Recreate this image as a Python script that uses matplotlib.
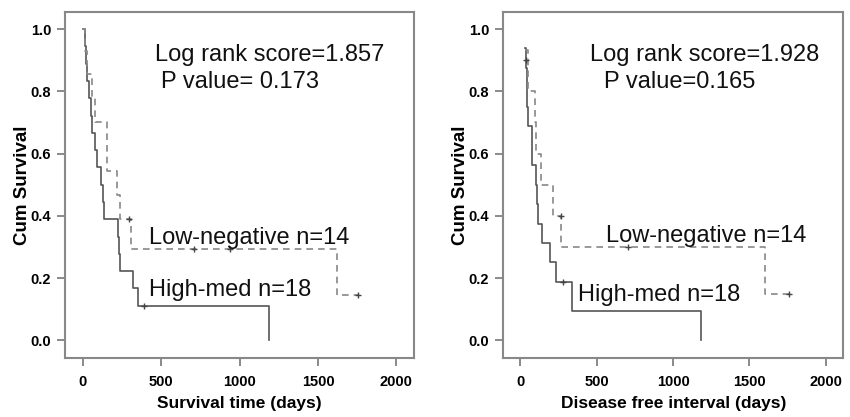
import matplotlib.pyplot as plt

# ---- data ----
# left panel: overall survival
hm1_t = [0, 12, 20, 28, 40, 52, 62, 75, 88, 115, 128, 135, 222, 232, 240, 318, 350, 1190]
hm1_s = [1.0, 0.944, 0.889, 0.833, 0.778, 0.722, 0.667, 0.611, 0.556, 0.5, 0.444,
         0.389, 0.333, 0.278, 0.222, 0.167, 0.111, 0.0]
hm1_cens_t = [392]
hm1_cens_s = [0.111]

ln1_t = [0, 15, 30, 60, 75, 157, 217, 238, 305, 1620]
ln1_s = [1.0, 0.929, 0.857, 0.779, 0.701, 0.545, 0.467, 0.389, 0.292, 0.146]
ln1_end = 1753
ln1_cens_t = [298, 707, 940, 1753]
ln1_cens_s = [0.389, 0.292, 0.292, 0.146]

# right panel: disease free interval
hm2_t = [30, 36, 40, 44, 47, 78, 100, 110, 118, 138, 192, 232, 338, 1184]
hm2_s = [0.9375, 0.875, 0.8125, 0.75, 0.6875, 0.5625, 0.5, 0.4375, 0.375, 0.3125,
         0.25, 0.1875, 0.094, 0.0]
hm2_cens_t = [279]
hm2_cens_s = [0.1875]

ln2_t = [30, 52, 95, 105, 134, 214, 268, 1600]
ln2_s = [0.933, 0.8, 0.7, 0.6, 0.5, 0.4, 0.3, 0.15]
ln2_end = 1762
ln2_cens_t = [35, 265, 706, 1762]
ln2_cens_s = [0.90, 0.4, 0.3, 0.15]

panels = [
    dict(hm_t=hm1_t, hm_s=hm1_s, hm_ct=hm1_cens_t, hm_cs=hm1_cens_s,
         ln_t=ln1_t, ln_s=ln1_s, ln_end=ln1_end, ln_ct=ln1_cens_t, ln_cs=ln1_cens_s,
         xlabel='Survival time (days)',
         texts=[(461, 0.915, 'Log rank score=1.857'), (500, 0.83, 'P value= 0.173'),
                (423, 0.33, 'Low-negative n=14'), (423, 0.16, 'High-med n=18')]),
    dict(hm_t=hm2_t, hm_s=hm2_s, hm_ct=hm2_cens_t, hm_cs=hm2_cens_s,
         ln_t=ln2_t, ln_s=ln2_s, ln_end=ln2_end, ln_ct=ln2_cens_t, ln_cs=ln2_cens_s,
         xlabel='Disease free interval (days)',
         texts=[(456, 0.915, 'Log rank score=1.928'), (545, 0.83, 'P value=0.165'),
                (560, 0.335, 'Low-negative n=14'), (376, 0.146, 'High-med n=18')]),
]

plt.rcParams['font.family'] = ['Liberation Sans', 'DejaVu Sans']

fig = plt.figure(figsize=(8.5, 4.17), dpi=100)
axes_pos = [[0.0765, 0.1415, 0.411, 0.83], [0.592, 0.1415, 0.4, 0.83]]

for pos, p in zip(axes_pos, panels):
    ax = fig.add_axes(pos)
    # solid: high-med
    ax.step(p['hm_t'], p['hm_s'], where='post', color='#555555', lw=1.2)
    ax.plot(p['hm_ct'], p['hm_cs'], '+', color='#444444', ms=4, mew=1)
    # dashed: low-negative
    ax.step(p['ln_t'] + [p['ln_end']], p['ln_s'] + [p['ln_s'][-1]], where='post',
            color='#888888', lw=1.2, ls=(0, (4, 3)))
    ax.plot(p['ln_ct'], p['ln_cs'], '+', color='#444444', ms=4, mew=1)

    for x, y, s in p['texts']:
        ax.text(x, y, s, fontsize=17, color='#111111', va='center', ha='left')

    ax.set_xlim(-113, 2115)
    ax.set_ylim(-0.057, 1.055)
    ax.set_xticks([0, 500, 1000, 1500, 2000])
    ax.set_yticks([0.0, 0.2, 0.4, 0.6, 0.8, 1.0])
    ax.set_yticklabels(['0.0', '0.2', '0.4', '0.6', '0.8', '1.0'])
    ax.tick_params(direction='out', length=6, width=1.2, color='#777777',
                   labelsize=10.5)
    ax.tick_params(axis='x', pad=6)
    ax.tick_params(axis='y', pad=4)
    for lab in ax.get_xticklabels() + ax.get_yticklabels():
        lab.set_fontweight('bold')
    for sp in ax.spines.values():
        sp.set_color('#888888')
        sp.set_linewidth(1.5)
    ax.set_xlabel(p['xlabel'], fontsize=12.5, fontweight='bold', labelpad=5)
    ax.set_ylabel('Cum Survival', fontsize=13.5, fontweight='bold', labelpad=0)

fig.savefig('out.png', dpi=100)
